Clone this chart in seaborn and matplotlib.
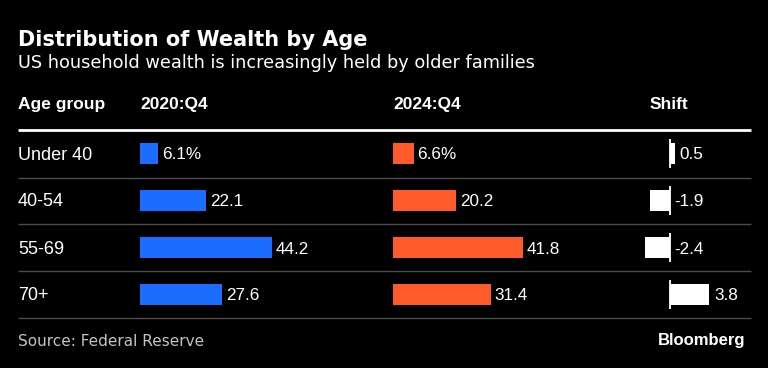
import matplotlib
matplotlib.use("Agg")
import matplotlib.pyplot as plt
import seaborn as sns
import pandas as pd

# ---- data ----
age_groups = ["Under 40", "40-54", "55-69", "70+"]
share_2020 = [6.1, 22.1, 44.2, 27.6]
share_2024 = [6.6, 20.2, 41.8, 31.4]
shift = [0.5, -1.9, -2.4, 3.8]
labels_2020 = ["6.1%", "22.1", "44.2", "27.6"]
labels_2024 = ["6.6%", "20.2", "41.8", "31.4"]
labels_shift = ["0.5", "-1.9", "-2.4", "3.8"]
headers = ["Age group", "2020:Q4", "2024:Q4", "Shift"]

title = "Distribution of Wealth by Age"
subtitle = "US household wealth is increasingly held by older families"
source = "Source: Federal Reserve"
brand = "Bloomberg"

BLUE = "#1a6dff"
ORANGE = "#ff5a2a"
BG = "#000000"

sns.set_theme(style="white")
plt.rcParams["font.family"] = ["Liberation Sans", "DejaVu Sans"]

W, H = 768, 368
fig = plt.figure(figsize=(W / 100, H / 100), dpi=100, facecolor=BG)

# background axes in pixel coordinates
bg = fig.add_axes([0, 0, 1, 1])
bg.set_xlim(0, W)
bg.set_ylim(H, 0)
bg.axis("off")
bg.set_facecolor(BG)

df = pd.DataFrame({"age": age_groups, "y2020": share_2020,
                   "y2024": share_2024, "shift": shift})

TOP, BOT = 130, 318
def px_axes(left, width):
    return fig.add_axes([left / W, (H - BOT) / H, width / W, (BOT - TOP) / H])

def style(ax, xlim):
    ax.set_xlim(*xlim)
    ax.set_ylim(len(age_groups) - 0.5, -0.5)
    ax.axis("off")
    ax.patch.set_alpha(0)

val_fs = 12.3
# 2020 column
ax1 = px_axes(140, 131.7)
sns.barplot(data=df, x="y2020", y="age", orient="h", color=BLUE,
            saturation=1, width=0.46, linewidth=0, ax=ax1)
style(ax1, (0, max(share_2020)))
for i, (v, lab) in enumerate(zip(share_2020, labels_2020)):
    ax1.annotate(lab, (v, i), xytext=(4, -1.5), textcoords="offset pixels",
                 va="center", ha="left", color="white", fontsize=val_fs,
                 annotation_clip=False)

# 2024 column
ax2 = px_axes(393, 130)
sns.barplot(data=df, x="y2024", y="age", orient="h", color=ORANGE,
            saturation=1, width=0.46, linewidth=0, ax=ax2)
style(ax2, (0, max(share_2024)))
for i, (v, lab) in enumerate(zip(share_2024, labels_2024)):
    ax2.annotate(lab, (v, i), xytext=(4, -1.5), textcoords="offset pixels",
                 va="center", ha="left", color="white", fontsize=val_fs,
                 annotation_clip=False)

# shift column
scale = 10.4
zero_px = 669.5
lo, hi = -3.0, 4.5
ax3 = px_axes(zero_px + lo * scale, (hi - lo) * scale)
sns.barplot(data=df, x="shift", y="age", orient="h", color="white",
            saturation=1, width=0.46, linewidth=0, ax=ax3)
style(ax3, (lo, hi))
for i in range(len(age_groups)):
    ax3.vlines(0, i - 0.3, i + 0.3, color="white", lw=1.3)
for i, (v, lab) in enumerate(zip(shift, labels_shift)):
    x = max(v, 0)
    ax3.annotate(lab, (x, i), xytext=(5, -1.5), textcoords="offset pixels",
                 va="center", ha="left", color="white", fontsize=val_fs,
                 annotation_clip=False)

# row labels
row_centers = [TOP + (BOT - TOP) / 4 * (i + 0.5) for i in range(4)]
for yc, lab in zip(row_centers, age_groups):
    bg.text(18, yc + 1.5, lab, color="white", fontsize=13, va="center", ha="left")

# header
for x, h in zip([18, 140, 393, 650], headers):
    bg.text(x, 104.5, h, color="white", fontsize=12.5, fontweight="bold",
            va="center", ha="left")

# lines
bg.plot([18, 751], [130, 130], color="white", lw=2, solid_capstyle="butt")
for yl in [177.5, 224, 270.5, 317.5]:
    bg.plot([18, 751], [yl, yl], color="#4d4d4d", lw=1, solid_capstyle="butt")

# titles
bg.text(18, 46, title, color="white", fontsize=15, fontweight="bold",
        family="DejaVu Sans", va="baseline", ha="left")
bg.text(18, 68.5, subtitle, color="white", fontsize=12.8,
        family="DejaVu Sans", va="baseline", ha="left")
bg.text(18, 342, source, color="#c4c4c4", fontsize=11,
        family="DejaVu Sans", va="center", ha="left")
bg.text(745, 340, brand, color="white", fontsize=12, fontweight="bold",
        va="center", ha="right")

fig.savefig("out.png", dpi=100, facecolor=BG)
